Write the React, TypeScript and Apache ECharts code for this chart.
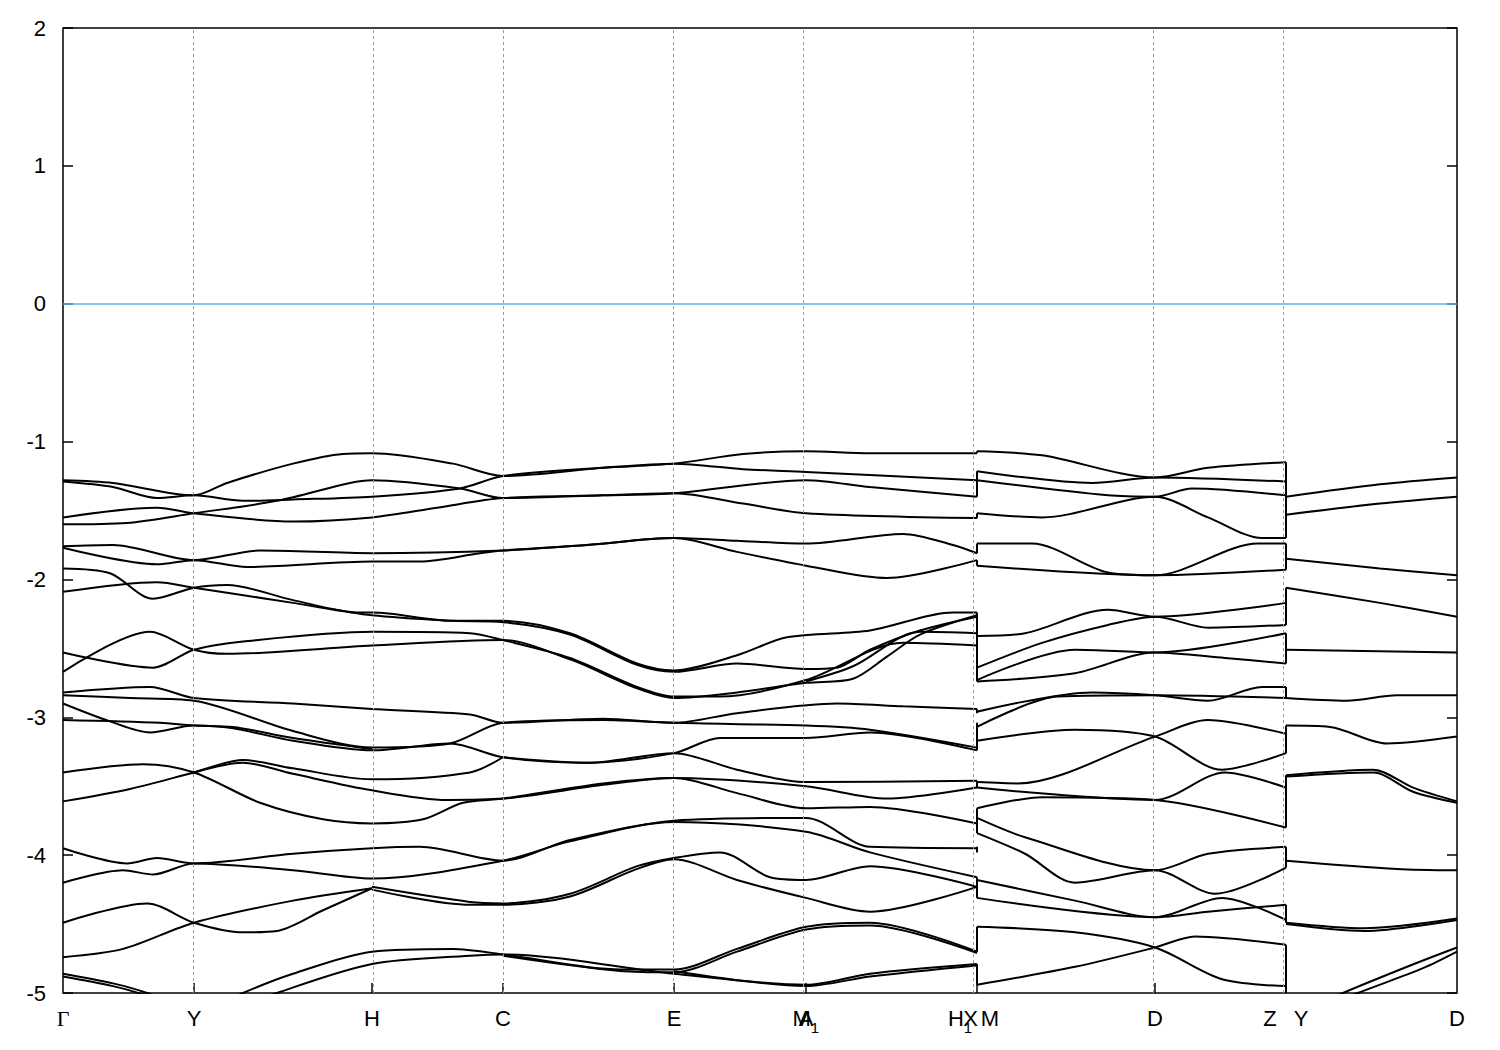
import React, { useEffect, useRef } from "react";
import * as echarts from "echarts";

// high-symmetry k positions (path distance)
const kPoints = [0, 0.131, 0.309, 0.44, 0.611, 0.743, 0.914, 1.092, 1.223, 1.394];
// tick-label anchor values and texts
const kLabelPos = [0, 0.131, 0.309, 0.44, 0.611, 0.7428, 0.7432, 0.897, 0.9075, 0.927, 1.092, 1.207, 1.238, 1.394];
const kLabelText = ["Γ", "Y", "H", "C", "E", "M_1", "A", "H_1", "X", "M", "D", "Z", "Y", "D"];

const yMin = -5;
const yMax = 2;
const fermiLevel = 0;

// ---- bands, Γ → Y → H → C → E → M1/A → X/H1 ----
const c1 = [[0,-1.28],[0.05,-1.30],[0.131,-1.39],[0.164,-1.30],[0.23,-1.16],[0.28,-1.09],[0.309,-1.085],[0.39,-1.16],[0.44,-1.25],[0.54,-1.19],[0.611,-1.16],[0.68,-1.09],[0.743,-1.07],[0.807,-1.085],[0.914,-1.085]];
const c2 = [[0,-1.29],[0.05,-1.33],[0.094,-1.41],[0.131,-1.39],[0.18,-1.43],[0.23,-1.42],[0.309,-1.40],[0.397,-1.34],[0.44,-1.25],[0.54,-1.19],[0.611,-1.16],[0.68,-1.20],[0.743,-1.22],[0.914,-1.28]];
const c3 = [[0,-1.55],[0.094,-1.48],[0.131,-1.52],[0.23,-1.58],[0.309,-1.55],[0.374,-1.48],[0.44,-1.41],[0.54,-1.39],[0.611,-1.375],[0.743,-1.28],[0.807,-1.33],[0.914,-1.40]];
const c4 = [[0,-1.60],[0.064,-1.59],[0.131,-1.52],[0.214,-1.43],[0.287,-1.30],[0.309,-1.28],[0.397,-1.34],[0.44,-1.41],[0.54,-1.39],[0.611,-1.375],[0.68,-1.45],[0.743,-1.52],[0.914,-1.555]];
const c7 = [[0,-1.76],[0.05,-1.75],[0.131,-1.86],[0.197,-1.79],[0.309,-1.81],[0.44,-1.79],[0.524,-1.75],[0.611,-1.70],[0.674,-1.72],[0.743,-1.74],[0.84,-1.67],[0.89,-1.75],[0.914,-1.81]];
const c8 = [[0,-1.77],[0.094,-1.89],[0.131,-1.86],[0.184,-1.91],[0.309,-1.87],[0.357,-1.87],[0.417,-1.81],[0.44,-1.79],[0.524,-1.75],[0.611,-1.70],[0.674,-1.80],[0.743,-1.90],[0.824,-1.99],[0.914,-1.86]];
const c9 = [[0,-1.92],[0.047,-1.955],[0.09,-2.14],[0.131,-2.06],[0.164,-2.04],[0.23,-2.15],[0.297,-2.24],[0.309,-2.24],[0.39,-2.30],[0.44,-2.30],[0.507,-2.39],[0.574,-2.61],[0.611,-2.66],[0.674,-2.55],[0.724,-2.42],[0.807,-2.37],[0.89,-2.24],[0.914,-2.24]];
const c10 = [[0,-2.09],[0.094,-2.02],[0.131,-2.06],[0.23,-2.17],[0.309,-2.26],[0.39,-2.30],[0.44,-2.31],[0.507,-2.40],[0.574,-2.62],[0.611,-2.67],[0.674,-2.61],[0.743,-2.65],[0.774,-2.64],[0.807,-2.51],[0.857,-2.37],[0.914,-2.27]];
const c11 = [[0,-2.53],[0.09,-2.64],[0.131,-2.51],[0.18,-2.45],[0.309,-2.38],[0.407,-2.39],[0.44,-2.44],[0.507,-2.57],[0.574,-2.78],[0.611,-2.85],[0.657,-2.85],[0.743,-2.73],[0.84,-2.46],[0.914,-2.48]];
const c12 = [[0,-2.67],[0.087,-2.38],[0.131,-2.51],[0.164,-2.54],[0.309,-2.48],[0.44,-2.44],[0.507,-2.58],[0.574,-2.79],[0.611,-2.86],[0.674,-2.82],[0.743,-2.75],[0.79,-2.72],[0.824,-2.56],[0.857,-2.40],[0.914,-2.26]];
const c13 = [[0.743,-2.74],[0.79,-2.63],[0.857,-2.38],[0.914,-2.39]];
const c14 = [[0,-2.82],[0.087,-2.78],[0.131,-2.86],[0.23,-2.90],[0.309,-2.94],[0.407,-2.98],[0.44,-3.04],[0.54,-3.01],[0.611,-3.04],[0.674,-2.97],[0.774,-2.90],[0.84,-2.92],[0.914,-2.94]];
const c15 = [[0,-2.84],[0.067,-2.86],[0.131,-2.88],[0.23,-3.10],[0.309,-3.22],[0.387,-3.19],[0.44,-3.04],[0.54,-3.02],[0.611,-3.04],[0.743,-3.06],[0.807,-3.09],[0.914,-3.22]];
const c16 = [[0,-2.90],[0.047,-3.03],[0.087,-3.11],[0.131,-3.06],[0.17,-3.08],[0.23,-3.17],[0.309,-3.24],[0.387,-3.19],[0.44,-3.29],[0.524,-3.33],[0.611,-3.26],[0.657,-3.15],[0.743,-3.15],[0.807,-3.11],[0.914,-3.24]];
const c17 = [[0,-3.02],[0.097,-3.04],[0.131,-3.06],[0.17,-3.07],[0.23,-3.15],[0.309,-3.23]];
const c18 = [[0.44,-3.29],[0.524,-3.33],[0.611,-3.26],[0.674,-3.38],[0.743,-3.47],[0.914,-3.46]];
const c19 = [[0,-3.40],[0.08,-3.34],[0.131,-3.40],[0.197,-3.62],[0.26,-3.74],[0.309,-3.77],[0.36,-3.74],[0.40,-3.62],[0.44,-3.59],[0.54,-3.48],[0.611,-3.44],[0.743,-3.50],[0.824,-3.59],[0.914,-3.51]];
const c20 = [[0,-3.61],[0.067,-3.52],[0.131,-3.40],[0.18,-3.31],[0.23,-3.37],[0.309,-3.45],[0.407,-3.40],[0.44,-3.29]];
const c21 = [[0.131,-3.40],[0.18,-3.33],[0.23,-3.41],[0.309,-3.53],[0.384,-3.60],[0.44,-3.59],[0.54,-3.49],[0.611,-3.44],[0.674,-3.55],[0.743,-3.66],[0.807,-3.65],[0.914,-3.77]];
const c22 = [[0,-3.95],[0.064,-4.06],[0.094,-4.02],[0.131,-4.06],[0.23,-3.99],[0.309,-3.95],[0.357,-3.94],[0.44,-4.04],[0.507,-3.89],[0.611,-3.75],[0.743,-3.73],[0.807,-3.94],[0.914,-3.95]];
const c23 = [[0,-4.20],[0.06,-4.11],[0.09,-4.14],[0.131,-4.06],[0.23,-4.11],[0.309,-4.17],[0.44,-4.04],[0.507,-3.90],[0.611,-3.76],[0.743,-3.83],[0.807,-3.98],[0.914,-4.16]];
const c24 = [[0.309,-4.23],[0.407,-4.34],[0.44,-4.35],[0.507,-4.28],[0.574,-4.08],[0.611,-4.02],[0.657,-3.98],[0.707,-4.16],[0.743,-4.18],[0.807,-4.08],[0.914,-4.23]];
const c25 = [[0.309,-4.25],[0.407,-4.36],[0.44,-4.36],[0.507,-4.30],[0.574,-4.10],[0.611,-4.03],[0.674,-4.18],[0.743,-4.31],[0.807,-4.41],[0.914,-4.23]];
const c26 = [[0,-4.49],[0.084,-4.35],[0.131,-4.49],[0.18,-4.56],[0.214,-4.55],[0.26,-4.40],[0.309,-4.24]];
const c27 = [[0,-4.74],[0.06,-4.68],[0.131,-4.49],[0.23,-4.33],[0.309,-4.24]];
const c28 = [[0,-4.86],[0.05,-4.93],[0.084,-5.0],[0.10,-5.06]];
const c29 = [[0,-4.88],[0.05,-4.95],[0.08,-5.01],[0.10,-5.07]];
const c30 = [[0.16,-5.08],[0.18,-5.0],[0.23,-4.86],[0.309,-4.70],[0.39,-4.68],[0.44,-4.72],[0.557,-4.83],[0.611,-4.83],[0.674,-4.68],[0.743,-4.52],[0.807,-4.49],[0.914,-4.70]];
const c31 = [[0.19,-5.08],[0.214,-5.0],[0.309,-4.79],[0.407,-4.73],[0.44,-4.72],[0.611,-4.86],[0.743,-4.94],[0.807,-4.86],[0.914,-4.79]];
const c32 = [[0.44,-4.73],[0.557,-4.84],[0.611,-4.85],[0.674,-4.70],[0.743,-4.54],[0.807,-4.51],[0.914,-4.71]];
const c33 = [[0.611,-4.84],[0.743,-4.95],[0.807,-4.88],[0.914,-4.80]];

// ---- bands, M → D → Z ----
const d1 = [[0.914,-1.07],[0.979,-1.10],[1.092,-1.26],[1.145,-1.19],[1.223,-1.15]];
const d2 = [[0.914,-1.215],[1.029,-1.30],[1.092,-1.26],[1.223,-1.29]];
const d3 = [[0.914,-1.28],[1.045,-1.39],[1.092,-1.40],[1.129,-1.34],[1.223,-1.39]];
const d4 = [[0.914,-1.52],[0.979,-1.55],[1.092,-1.40],[1.145,-1.55],[1.199,-1.70],[1.223,-1.70]];
const d5 = [[0.914,-1.74],[0.969,-1.74],[1.045,-1.95],[1.092,-1.97],[1.195,-1.74],[1.223,-1.74]];
const d6 = [[0.914,-1.90],[1.092,-1.97],[1.223,-1.93]];
const d7 = [[0.914,-2.41],[0.962,-2.39],[1.045,-2.22],[1.092,-2.27],[1.223,-2.17]];
const d8 = [[0.914,-2.64],[0.979,-2.46],[1.045,-2.33],[1.092,-2.27],[1.145,-2.35],[1.223,-2.33]];
const d9 = [[0.914,-2.73],[1.012,-2.51],[1.092,-2.53],[1.223,-2.39]];
const d10 = [[0.914,-2.74],[1.012,-2.68],[1.092,-2.53],[1.162,-2.57],[1.223,-2.61]];
const d11 = [[0.914,-2.96],[1.029,-2.82],[1.092,-2.84],[1.145,-2.88],[1.199,-2.78],[1.223,-2.78]];
const d12 = [[0.914,-3.07],[0.995,-2.85],[1.092,-2.84],[1.223,-2.86]];
const d13 = [[0.914,-3.17],[1.012,-3.09],[1.092,-3.14],[1.159,-3.38],[1.223,-3.26]];
const d14 = [[0.914,-3.47],[0.955,-3.48],[1.092,-3.14],[1.145,-3.02],[1.223,-3.12]];
const d15 = [[0.914,-3.51],[1.092,-3.60],[1.162,-3.40],[1.223,-3.51]];
const d16 = [[0.914,-3.66],[0.979,-3.58],[1.092,-3.60],[1.223,-3.80]];
const d17 = [[0.914,-3.73],[0.962,-3.87],[1.092,-4.11],[1.145,-3.99],[1.223,-3.94]];
const d18 = [[0.914,-3.84],[0.962,-3.99],[1.012,-4.20],[1.092,-4.11],[1.152,-4.28],[1.223,-4.09]];
const d19 = [[0.914,-4.18],[1.012,-4.33],[1.092,-4.45],[1.145,-4.41],[1.223,-4.36]];
const d20 = [[0.914,-4.31],[1.092,-4.45],[1.159,-4.31],[1.223,-4.47]];
const d21 = [[0.914,-4.52],[1.012,-4.56],[1.092,-4.67],[1.159,-4.90],[1.223,-4.95]];
const d22 = [[0.914,-4.94],[1.012,-4.81],[1.092,-4.67],[1.132,-4.59],[1.223,-4.65]];

// ---- bands, Y → D ----
const e1 = [[1.223,-1.40],[1.317,-1.31],[1.394,-1.26]];
const e2 = [[1.223,-1.53],[1.317,-1.45],[1.394,-1.40]];
const e3 = [[1.223,-1.85],[1.317,-1.92],[1.394,-1.97]];
const e4 = [[1.223,-2.06],[1.317,-2.17],[1.394,-2.27]];
const e5 = [[1.223,-2.51],[1.394,-2.53]];
const e6 = [[1.223,-2.86],[1.284,-2.88],[1.334,-2.84],[1.394,-2.84]];
const e7 = [[1.223,-3.06],[1.267,-3.07],[1.324,-3.19],[1.394,-3.14]];
const e8 = [[1.223,-3.42],[1.31,-3.38],[1.35,-3.51],[1.394,-3.61]];
const e8b = [[1.223,-3.43],[1.31,-3.40],[1.35,-3.54],[1.394,-3.62]];
const e9 = [[1.223,-4.04],[1.334,-4.10],[1.394,-4.11]];
const e10 = [[1.223,-4.49],[1.301,-4.53],[1.394,-4.46]];
const e10b = [[1.223,-4.50],[1.301,-4.55],[1.394,-4.47]];
const e11 = [[1.267,-5.05],[1.28,-5.0],[1.351,-4.79],[1.394,-4.67]];
const e12 = [[1.28,-5.05],[1.295,-5.0],[1.36,-4.82],[1.394,-4.70]];

const bands = [
  c1, c2, c3, c4, c7, c8, c9, c10, c11, c12, c13, c14, c15, c16, c17, c18, c19, c20,
  c21, c22, c23, c24, c25, c26, c27, c28, c29, c30, c31, c32, c33,
  d1, d2, d3, d4, d5, d6, d7, d8, d9, d10, d11, d12, d13, d14, d15, d16, d17, d18, d19, d20, d21, d22,
  e1, e2, e3, e4, e5, e6, e7, e8, e8b, e9, e10, e10b, e11, e12,
];

// vertical band jumps at the path discontinuities H1|M and Z|Y
const jumpK = [0.914, 1.223];
const jumpsAtH1M = [[-1.07,-1.085],[-1.215,-1.40],[-1.52,-1.556],[-1.74,-1.81],[-1.86,-1.90],[-2.24,-2.74],[-2.94,-2.97],[-3.04,-3.24],[-3.46,-3.51],[-3.66,-3.84],[-3.94,-3.98],[-4.16,-4.31],[-4.52,-4.70],[-4.79,-4.94]];
const jumpsAtZY = [[-1.15,-1.70],[-1.74,-1.93],[-2.06,-2.33],[-2.39,-2.61],[-2.78,-2.86],[-3.06,-3.26],[-3.42,-3.80],[-3.94,-4.09],[-4.36,-4.49],[-4.65,-5.0]];

function labelFor(v: number): string {
  let best = -1;
  let bd = 1e9;
  kLabelPos.forEach((p, i) => {
    const d = Math.abs(p - v);
    if (d < bd) { bd = d; best = i; }
  });
  if (best < 0 || bd > 0.0001) return "";
  const t = kLabelText[best];
  if (t === "Γ") return "{g|Γ}";
  const parts = t.split("_");
  if (parts.length === 2) return "{n|" + parts[0] + "}{s|" + parts[1] + "}";
  return "{n|" + t + "}";
}

export default function App() {
  const ref = useRef<HTMLDivElement>(null);
  useEffect(() => {
    if (!ref.current) return;
    const chart = echarts.init(ref.current, undefined, { renderer: "svg" });
    const lineStyle = { color: "#000", width: 2 };
    const series: any[] = [];
    series.push({
      type: "line",
      data: [],
      silent: true,
      markLine: {
        silent: true,
        symbol: "none",
        animation: false,
        label: { show: false },
        data: [
          ...kPoints.slice(1, -1).map((k) => ({
            xAxis: k,
            lineStyle: { color: "#9a9a9a", type: [3, 3], width: 1 },
          })),
          { yAxis: fermiLevel, lineStyle: { color: "#56b4e9", type: "solid", width: 1.5 } },
        ],
      },
    });
    bands.forEach((b) => {
      series.push({
        type: "line",
        data: b,
        smooth: 0.3,
        symbol: "none",
        showSymbol: false,
        silent: true,
        clip: true,
        lineStyle,
      });
    });
    [jumpsAtH1M, jumpsAtZY].forEach((js, i) => {
      js.forEach((seg) => {
        series.push({
          type: "line",
          data: [[jumpK[i], seg[0]], [jumpK[i], seg[1]]],
          symbol: "none",
          showSymbol: false,
          silent: true,
          lineStyle,
        });
      });
    });

    const richLbl = {
      n: { fontSize: 22, fontFamily: "Liberation Sans", color: "#000", lineHeight: 34 },
      s: { fontSize: 15, fontFamily: "Liberation Sans", color: "#000", lineHeight: 34, verticalAlign: "bottom" },
      g: { fontSize: 22, fontFamily: "Liberation Serif", color: "#000", lineHeight: 34 },
    };
    const innerTicks = kPoints.slice(1, -1);

    chart.setOption({
      animation: false,
      backgroundColor: "#fff",
      grid: { left: 63, right: 43, top: 28, bottom: 57, show: true, borderColor: "#000", borderWidth: 1.5, backgroundColor: "transparent" },
      xAxis: {
        type: "value",
        position: "bottom",
        min: kPoints[0],
        max: kPoints[kPoints.length - 1],
        axisLine: { show: false, onZero: false },
        splitLine: { show: false },
        axisTick: { show: true, inside: true, length: 10, customValues: innerTicks, lineStyle: { color: "#000", width: 1.5 } },
        axisLabel: {
          show: true,
          customValues: kLabelPos,
          margin: 8,
          formatter: (v: number) => labelFor(v),
          rich: richLbl,
        },
      },
      yAxis: [
        {
          type: "value",
          position: "left",
          min: yMin,
          max: yMax,
          interval: 1,
          axisLine: { show: false, onZero: false },
          splitLine: { show: false },
          axisTick: { show: true, inside: true, length: 10, lineStyle: { color: "#000", width: 1.5 } },
          axisLabel: { fontSize: 22, color: "#000", fontFamily: "Liberation Sans", margin: 17 },
        },
        {
          type: "value",
          position: "right",
          min: yMin,
          max: yMax,
          interval: 1,
          axisLine: { show: false, onZero: false },
          splitLine: { show: false },
          axisTick: { show: true, inside: true, length: 10, lineStyle: { color: "#000", width: 1.5 } },
          axisLabel: { show: false },
        },
      ],
      series,
    });
    return () => chart.dispose();
  }, []);
  return <div ref={ref} style={{ position: "absolute", left: 0, top: 0, width: 1500, height: 1050 }} />;
}
